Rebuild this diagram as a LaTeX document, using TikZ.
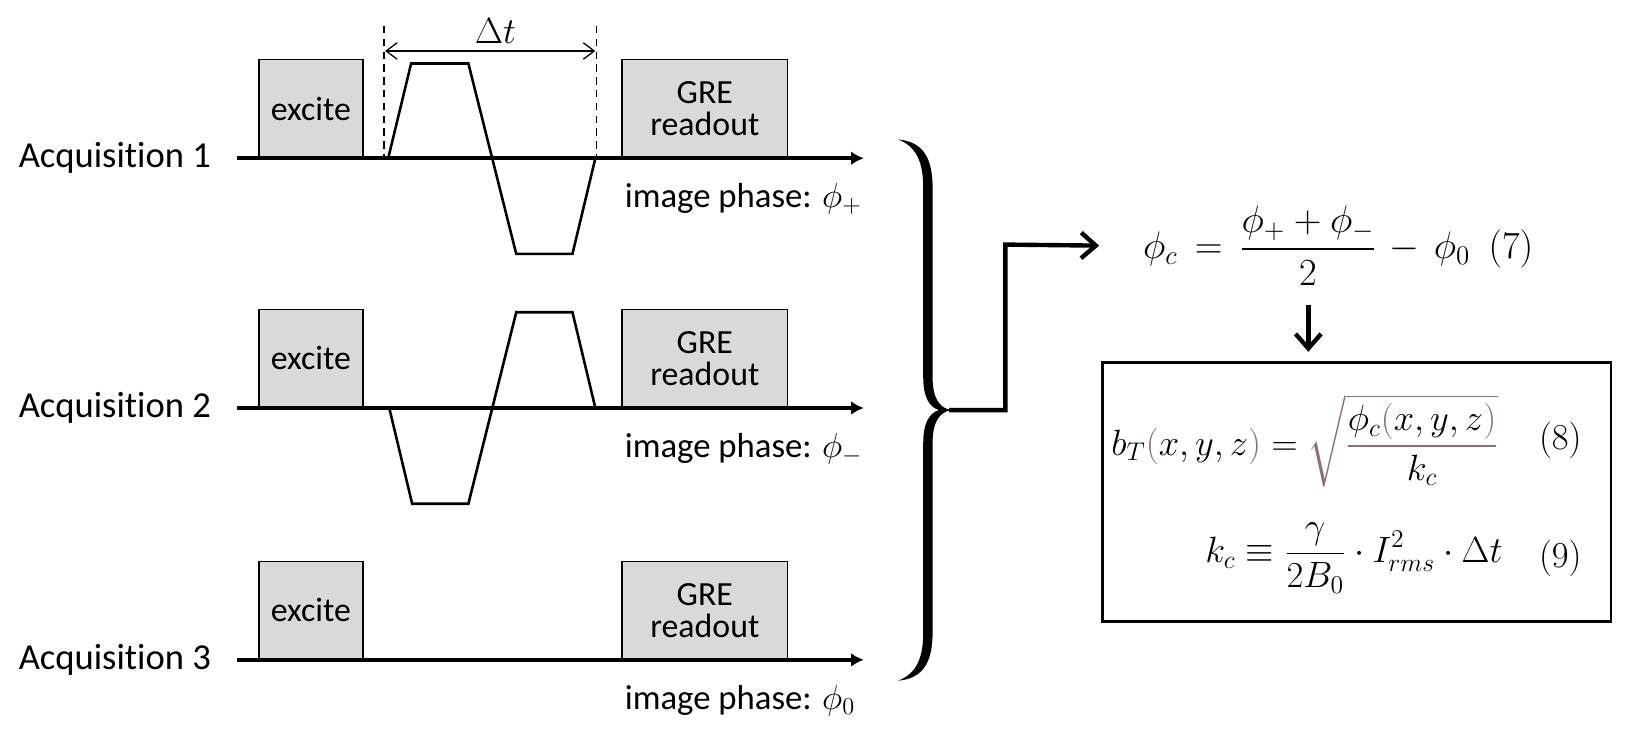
\RequirePackage{fix-cm}
\documentclass[tikz,border=0pt]{standalone}
\usepackage{amsmath}
\usepackage[no-math]{fontspec}
\setmainfont{Carlito}[Ligatures=NoCommon]
\usetikzlibrary{arrows.meta}
\definecolor{boxgray}{HTML}{D9D9D9}
\definecolor{pb}{HTML}{8E6F6F}
\tikzset{
  lbl/.style={font=\fontsize{19}{22}\selectfont, inner sep=0pt},
  acqlbl/.style={font=\fontsize{20}{24}\selectfont, inner sep=0pt},
  gbox/.style={draw=black, line width=0.8pt, fill=boxgray, anchor=south west,
    minimum height=1.88cm, inner sep=0pt, align=center,
    font=\fontsize{18.5}{17.5}\selectfont},
  axisline/.style={line width=2pt, -{Latex[length=7pt,width=7.5pt]}},
  grad/.style={line width=1.4pt, line join=miter},
  dline/.style={line width=0.7pt, dash pattern=on 4pt off 3pt},
  thickarrow/.style={line width=2.4pt, -{Straight Barb[length=8pt,width=14pt]}},
  eqn/.style={inner sep=0pt, font=\fontsize{20}{24}\selectfont},
  bigeqn/.style={inner sep=0pt, font=\fontsize{21}{25}\selectfont},
}
\begin{document}
\begin{tikzpicture}[x=0.02cm,y=-0.02cm]
\useasboundingbox (0,0) rectangle (1568,712);

% ---------- Acquisition 1 ----------
\node[acqlbl, anchor=east] (acq1) at (203,152) {Acquisition 1};
\coordinate (a1s) at (228,152);
\coordinate (a1e) at (830,152);
\node[gbox, minimum width=2cm] (ex1) at (248,152) {excite};
\node[gbox, minimum width=3.18cm] (gre1) at (597,152) {GRE\\readout};
\draw[axisline] (a1s) -- (a1e);
\draw[grad] (373,152) -- (395,61) -- (450,61) -- (496,244) -- (550,244) -- (572,152);
\draw[dline] (369,25) -- (369,152);
\draw[dline] (573,25) -- (573,152);
\draw[line width=0.7pt, {Straight Barb[length=6pt,width=9pt]}-{Straight Barb[length=6pt,width=9pt]}] (370,49) -- (572,49);
\node[eqn] (dt) at (476,30) {$\Delta t$};
\node[lbl, anchor=west] (ph1) at (600,191) {image phase: $\phi_+$};

% ---------- Acquisition 2 ----------
\node[acqlbl, anchor=east] (acq2) at (203,392) {Acquisition 2};
\coordinate (a2s) at (228,392);
\coordinate (a2e) at (830,392);
\node[gbox, minimum width=2cm] (ex2) at (248,392) {excite};
\node[gbox, minimum width=3.18cm] (gre2) at (597,392) {GRE\\readout};
\draw[axisline] (a2s) -- (a2e);
\draw[grad] (374,392) -- (396,484) -- (450,484) -- (496,300) -- (550,300) -- (572,392);
\node[lbl, anchor=west] (ph2) at (600,431) {image phase: $\phi_-$};

% ---------- Acquisition 3 ----------
\node[acqlbl, anchor=east] (acq3) at (203,634) {Acquisition 3};
\coordinate (a3s) at (228,634);
\coordinate (a3e) at (830,634);
\node[gbox, minimum width=2cm] (ex3) at (248,634) {excite};
\node[gbox, minimum width=3.18cm] (gre3) at (597,634) {GRE\\readout};
\draw[axisline] (a3s) -- (a3e);
\node[lbl, anchor=west] (ph3) at (600,673) {image phase: $\phi_0$};

% ---------- Brace ----------
\fill (863,134) .. controls (884,136) and (896,148) .. (896,180)
  -- (896,362) .. controls (896,382) and (902,392) .. (914,394)
  .. controls (902,396) and (896,406) .. (896,426)
  -- (896,608) .. controls (896,640) and (884,652) .. (863,654)
  .. controls (878,648) and (887,636) .. (887,608)
  -- (887,426) .. controls (887,406) and (893,397) .. (902,394)
  .. controls (893,391) and (887,382) .. (887,362)
  -- (887,180) .. controls (887,152) and (878,140) .. (863,134) -- cycle;
\coordinate (tip) at (912,394);

% ---------- Equations ----------
\node[bigeqn, anchor=west] (eq7) at (1098,236)
  {$\displaystyle \phi_c \mskip3mu =\mskip3mu \frac{\phi_+ + \phi_-}{2} \mskip2mu -\mskip3mu \phi_0\hspace{10pt}(7)$};
\draw[thickarrow] (tip) -- (966,394) -- (966,235) -- (eq7.west -| 1056,235);

\node[draw, line width=1.3pt, minimum width=9.78cm, minimum height=4.98cm,
  anchor=north west, inner sep=0pt] (box) at (1058,347) {};
\draw[thickarrow] (1257,293) -- (1257,338);

\node[eqn, anchor=east] (eq8) at (1440,423)
  {$\displaystyle b_T{\color{pb}(}x,y,z{\color{pb})} = {\color{pb}\sqrt{\frac{\textcolor{black}{\phi_c}(\textcolor{black}{x,y,z})}{\textcolor{black}{k_c}}}}$};
\node[eqn, anchor=east] (t8) at (1520,423) {$(8)$};
\node[eqn, anchor=east] (eq9) at (1444,536)
  {$\displaystyle k_c \equiv \frac{\gamma}{2B_0}\cdot I_{rms}^2\cdot \Delta t$};
\node[eqn, anchor=east] (t9) at (1520,536) {$(9)$};
\end{tikzpicture}
\end{document}
